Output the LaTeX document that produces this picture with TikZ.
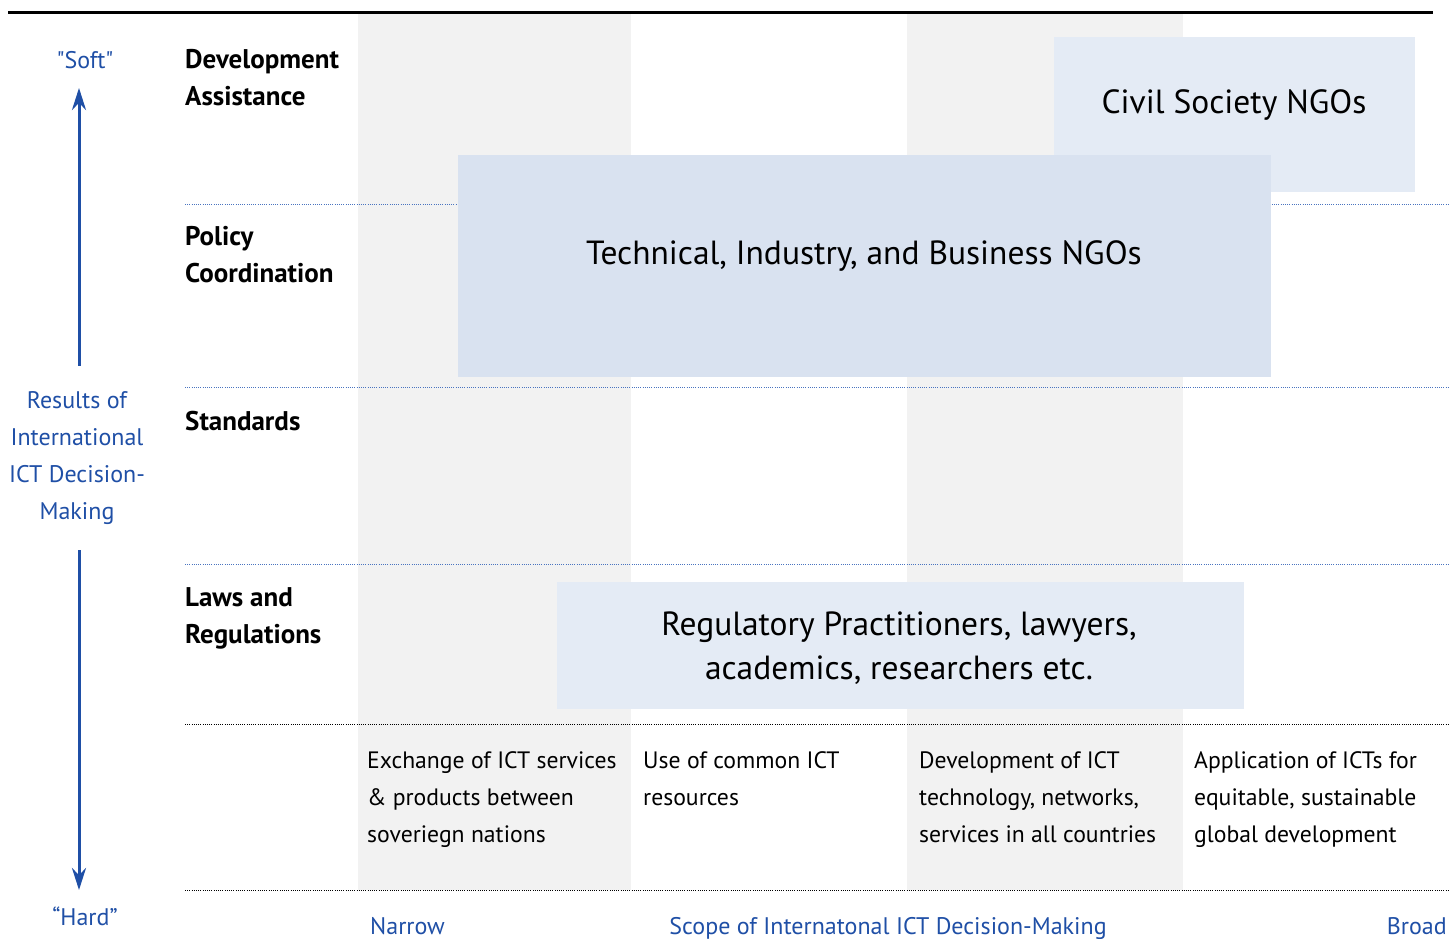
\documentclass[tikz,border=0pt]{standalone}
\usepackage{fontspec}
\setmainfont{PT Sans}
\usetikzlibrary{positioning,arrows.meta}

\definecolor{sideblue}{HTML}{1F4FA6}
\definecolor{colgray}{HTML}{F2F2F2}
\definecolor{boxlight}{HTML}{E4EBF5}
\definecolor{boxdark}{HTML}{D9E2F0}
\definecolor{ruleblue}{HTML}{4A74C0}

\begin{document}
\begin{tikzpicture}
[x=1pt,y=-1pt,
rowhead/.style={anchor=base west,inner sep=0pt,align=left,font=\fontsize{27}{37}\selectfont\bfseries},
scopetext/.style={anchor=base west,inner sep=0pt,align=left,font=\fontsize{23.7}{37}\selectfont},
sidetext/.style={inner sep=0pt,text=sideblue,align=center,font=\fontsize{24}{37}\selectfont},
actorbox/.style={inner sep=0pt,draw=none},
actor/.style={inner sep=0pt,align=center,font=\fontsize{33.5}{44}\selectfont},
dotrule/.style={draw=ruleblue,line width=1pt,dash pattern=on 1pt off 1.2pt},
sidearrow/.style={draw=sideblue,line width=3pt,-{Stealth[length=22pt,width=14pt]}}]
\useasboundingbox (0,0) rectangle (1449,938);
% shaded scope columns
\fill[colgray] (358,14) rectangle (631,890);
\fill[colgray] (907,14) rectangle (1183,890);
\draw[line width=3pt] (8,12) -- (1433,12);
% row rules
\foreach \yy in {204,387,564} \draw[dotrule] (185,\yy) -- (1449,\yy);
\foreach \yy in {724,890} \draw[dotrule,draw=black] (185,\yy) -- (1449,\yy);
% actor boxes
\node[actorbox,fill=boxlight,minimum width=361pt,minimum height=155pt] (civil) at (1234.5,114.5) {};
\node[actor] (civil text) at (1234,105) {Civil Society NGOs};
\node[actorbox,fill=boxdark,minimum width=813pt,minimum height=222pt] (tech) at (864.5,266) {};
\node[actor] (tech text) at (864,256) {Technical, Industry, and Business NGOs};
\node[actorbox,fill=boxlight,minimum width=687pt,minimum height=127pt] (reg) at (900.5,645.5) {};
\node[actor] (reg text) at (899,648) {Regulatory Practitioners, lawyers,\\academics, researchers etc.};
% row headings (base = last line)
\node[rowhead] (dev) at (185,105) {Development\\Assistance};
\node[rowhead] (policy) at (185,282) {Policy\\Coordination};
\node[rowhead] (std) at (185,430) {Standards};
\node[rowhead] (laws) at (185,643) {Laws and\\Regulations};
% scope columns
\node[scopetext] (exchange) at (367,842) {Exchange of ICT services\\\& products between\\soveriegn nations};
\node[scopetext] (common) at (643,805) {Use of common ICT\\resources};
\node[scopetext] (develop) at (919,842) {Development of ICT\\technology, networks,\\services in all countries};
\node[scopetext] (apply) at (1194,842) {Application of ICTs for\\equitable, sustainable\\global development};
% vertical axis
\node[sidetext,anchor=base] (soft) at (85,68) {\textquotedbl Soft\textquotedbl};
\node[sidetext,anchor=base] (hard) at (85,925) {“Hard”};
\node[sidetext,minimum height=184pt] (results) at (77,458) {Results of\\International\\ICT Decision-\\Making};
\coordinate (soft tip) at (79,88);
\coordinate (hard tip) at (79,890);
\draw[sidearrow] (results.north -| soft tip) -- (soft tip);
\draw[sidearrow] (results.south -| hard tip) -- (hard tip);
% horizontal axis
\node[sidetext,anchor=base west] (narrow) at (370,934) {Narrow};
\node[sidetext,anchor=base] (scope) at (888,934) {Scope of Internatonal ICT Decision-Making};
\node[sidetext,anchor=base east] (broad) at (1447,934) {Broad};
\end{tikzpicture}
\end{document}
